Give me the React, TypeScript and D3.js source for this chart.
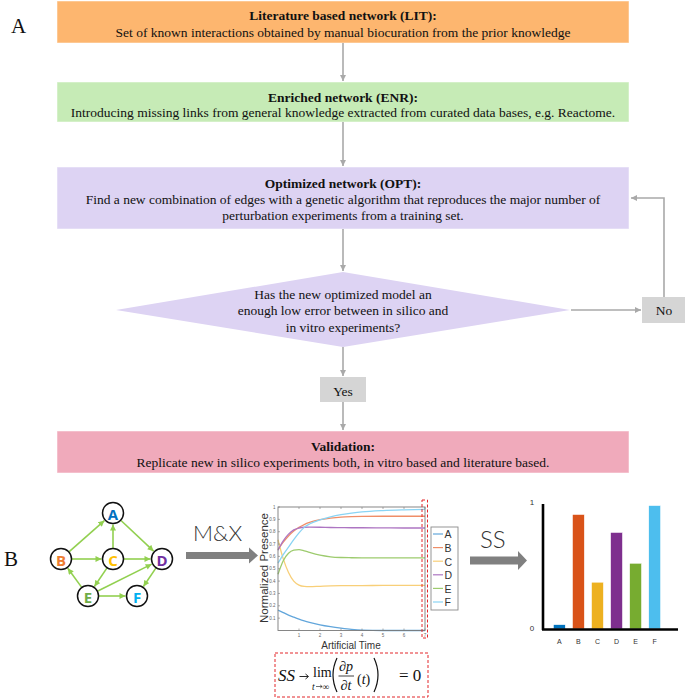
import React from 'react';
import * as d3 from 'd3';

// ---------- Data ----------
const lineTimes = [0, 0.25, 0.5, 0.75, 1, 1.25, 1.5, 2, 2.5, 3, 3.5, 4, 5, 6, 7];
const seriesA = [0.165, 0.145, 0.125, 0.108, 0.092, 0.078, 0.066, 0.046, 0.031, 0.019, 0.009, 0.003, 0, 0, 0];
const seriesB = [0.655, 0.715, 0.765, 0.805, 0.835, 0.858, 0.875, 0.898, 0.91, 0.918, 0.922, 0.924, 0.925, 0.925, 0.925];
const seriesC = [0.735, 0.58, 0.47, 0.4, 0.368, 0.357, 0.355, 0.358, 0.361, 0.363, 0.364, 0.364, 0.365, 0.365, 0.365];
const seriesD = [0.65, 0.725, 0.78, 0.815, 0.83, 0.836, 0.837, 0.836, 0.834, 0.833, 0.832, 0.832, 0.831, 0.83, 0.83];
const seriesE = [0.455, 0.565, 0.625, 0.65, 0.655, 0.645, 0.632, 0.61, 0.597, 0.591, 0.589, 0.588, 0.588, 0.588, 0.588];
const seriesF = [0.545, 0.615, 0.675, 0.735, 0.79, 0.835, 0.862, 0.895, 0.92, 0.938, 0.95, 0.96, 0.971, 0.977, 0.981];
const lineNames = ['A', 'B', 'C', 'D', 'E', 'F'];
const lineSeries = [seriesA, seriesB, seriesC, seriesD, seriesE, seriesF];
const lineColors = ['#62A6DB', '#EF8E68', '#F8CF78', '#AD75C2', '#9DCB6E', '#8AD4F4'];
const yTickValues = [0.1, 0.2, 0.3, 0.4, 0.5, 0.6, 0.7, 0.8, 0.9, 1];
const xTickValues = [1, 2, 3, 4, 5, 6, 7];

const barCategories = ['A', 'B', 'C', 'D', 'E', 'F'];
const barValues = [0.035, 0.913, 0.373, 0.77, 0.524, 0.984];
const barColors = ['#0072BD', '#D95319', '#EDB120', '#7E2F8E', '#77AC30', '#4DBEEE'];
const barTicks = [0, 1];

const nodeNames = ['A', 'B', 'C', 'D', 'E', 'F'];
const nodeColors = ['#0070C0', '#ED7D31', '#FFC000', '#7030A0', '#70AD47', '#00B0F0'];
const edges: [string, string][] = [
  ['B', 'A'], ['C', 'A'], ['A', 'D'], ['B', 'C'], ['C', 'D'],
  ['C', 'E'], ['E', 'D'], ['E', 'B'], ['D', 'F'], ['E', 'F'],
];

const litLines = ['Literature based network (LIT):', 'Set of known interactions obtained by manual biocuration from the prior knowledge'];
const enrLines = ['Enriched network (ENR):', 'Introducing missing links from general knowledge extracted from curated data bases, e.g. Reactome.'];
const optLines = ['Optimized network (OPT):', 'Find a new combination of edges with a genetic algorithm that reproduces the major number of', 'perturbation experiments from a training set.'];
const diamondLines = ['Has the new optimized model an', 'enough low error between in silico and', 'in vitro experiments?'];
const valLines = ['Validation:', 'Replicate new in silico experiments both, in vitro based and literature based.'];

// ---------- Layout ----------
const SERIF = '"Liberation Serif", "Times New Roman", serif';
const SANS = '"Liberation Sans", Arial, sans-serif';
const CX = 343;
const FLOW_ARROW = '#A9A9A9';
const FLOW_FS = 13.5;

const nodePos: Record<string, [number, number]> = {
  A: [113, 513], B: [61, 559], C: [113, 559], D: [162, 559], E: [88, 596], F: [137, 596],
};
const NODE_R = 10.5;

function FlowBox({ x, y, w, h, fill, lines, ys }: any) {
  return (
    <g>
      <rect x={x} y={y} width={w} height={h} fill={fill} stroke="#ffffff" strokeOpacity={0.5} strokeWidth={1} />
      {lines.map((t: string, i: number) => (
        <text key={i} x={CX} y={ys[i]} textAnchor="middle" dominantBaseline="central"
          fontFamily={SERIF} fontSize={FLOW_FS} fontWeight={i === 0 ? 'bold' : 'normal'} fill="#111">{t}</text>
      ))}
    </g>
  );
}

function VArrow({ x, y1, y2 }: any) {
  return <line x1={x} y1={y1} x2={x} y2={y2 - 1} stroke={FLOW_ARROW} strokeWidth={1.6} markerEnd="url(#grayArrow)" />;
}

export default function App() {
  // line chart scales
  const lx = d3.scaleLinear().domain([0, 7]).range([278, 425]);
  const ly = d3.scaleLinear().domain([0, 1]).range([630.5, 507]);
  const lineGen = d3.line<number>()
    .x((_, i) => lx(lineTimes[i]))
    .y((d) => ly(d))
    .curve(d3.curveMonotoneX);

  // bar chart scales
  const bx = d3.scaleBand<string>().domain(barCategories).range([549.5, 664.5]).paddingInner(0.37).paddingOuter(0.2);
  const by = d3.scaleLinear().domain([0, 1]).range([629, 503.5]);

  // diamond
  const dTop = 272, dBot = 347, dL = 116, dR = 570, dMid = 310;

  return (
    <svg width={685} height={700} viewBox="0 0 685 700"
      style={{ position: 'absolute', left: 0, top: 0, background: '#fff' }}>
      <defs>
        <marker id="grayArrow" viewBox="0 0 10 10" refX="10" refY="5" markerWidth="6" markerHeight="6"
          markerUnits="userSpaceOnUse" orient="auto">
          <path d="M0,0 L10,5 L0,10 z" fill={FLOW_ARROW} />
        </marker>
        <marker id="greenArrow" viewBox="0 0 10 10" refX="10" refY="5" markerWidth="6.5" markerHeight="6"
          markerUnits="userSpaceOnUse" orient="auto">
          <path d="M0,0 L10,5 L0,10 z" fill="#92D050" />
        </marker>
      </defs>
      <rect x={0} y={0} width={685} height={700} fill="#fff" />

      {/* ---------- Panel A ---------- */}
      <text x={11} y={33} fontFamily={SERIF} fontSize={21} fill="#111">A</text>

      <FlowBox x={57} y={1} w={572} h={42} fill="#FDB66F" lines={litLines} ys={[15, 32]} />
      <VArrow x={CX} y1={43} y2={82} />
      <FlowBox x={57} y={82} w={572} h={40} fill="#C6EBB6" lines={enrLines} ys={[97, 112]} />
      <VArrow x={CX} y1={122} y2={167} />
      <FlowBox x={57} y={167} w={572} h={62} fill="#DDD3F3" lines={optLines} ys={[183, 199, 215]} />
      <VArrow x={CX} y1={229} y2={272} />

      <path d={`M${CX},${dTop} L${dR},${dMid} L${CX},${dBot} L${dL},${dMid} Z`} fill="#DDD3F3" />
      {diamondLines.map((t, i) => (
        <text key={i} x={CX} y={[294, 310, 327][i]} textAnchor="middle" dominantBaseline="central"
          fontFamily={SERIF} fontSize={FLOW_FS} fill="#111">{t}</text>
      ))}

      {/* No */}
      <line x1={dR + 1} y1={dMid} x2={641} y2={dMid} stroke={FLOW_ARROW} strokeWidth={1.6} markerEnd="url(#grayArrow)" />
      <rect x={642} y={297} width={43} height={26} fill="#D5D5D5" />
      <text x={664} y={310} textAnchor="middle" dominantBaseline="central" fontFamily={SERIF} fontSize={FLOW_FS} fill="#111">No</text>
      <polyline points={`664,297 664,198 631,198`} fill="none" stroke={FLOW_ARROW} strokeWidth={1.6} markerEnd="url(#grayArrow)" />

      <VArrow x={CX} y1={dBot} y2={377} />
      <rect x={320} y={377} width={46} height={25} fill="#D5D5D5" />
      <text x={CX} y={391} textAnchor="middle" dominantBaseline="central" fontFamily={SERIF} fontSize={FLOW_FS} fill="#111">Yes</text>
      <VArrow x={CX} y1={402} y2={431} />
      <FlowBox x={57} y={431} w={572} h={42} fill="#F0AABB" lines={valLines} ys={[446, 462]} />

      {/* ---------- Panel B ---------- */}
      <text x={4} y={566} fontFamily={SERIF} fontSize={21} fill="#111">B</text>

      {/* network */}
      {edges.map(([s, t], i) => {
        const [x1, y1] = nodePos[s];
        const [x2, y2] = nodePos[t];
        const dx = x2 - x1, dy = y2 - y1;
        const len = Math.sqrt(dx * dx + dy * dy);
        const ux = dx / len, uy = dy / len;
        return (
          <line key={i} x1={x1 + ux * (NODE_R + 0.5)} y1={y1 + uy * (NODE_R + 0.5)}
            x2={x2 - ux * (NODE_R + 1)} y2={y2 - uy * (NODE_R + 1)}
            stroke="#92D050" strokeWidth={1.6} markerEnd="url(#greenArrow)" />
        );
      })}
      {nodeNames.map((n, i) => (
        <g key={n}>
          <circle cx={nodePos[n][0]} cy={nodePos[n][1]} r={NODE_R} fill="#fff" stroke="#111" strokeWidth={1.5} />
          <text x={nodePos[n][0]} y={nodePos[n][1] + 0.5} textAnchor="middle" dominantBaseline="central"
            fontFamily='"Open Sans", sans-serif' fontWeight={700} fontSize={15} fill={nodeColors[i]}>{n}</text>
        </g>
      ))}

      {/* M&X arrow */}
      <text x={193} y={541} fontFamily='Lato, sans-serif' fontWeight={300} fontSize={22} fill="#333">M&amp;X</text>
      <rect x={186} y={552} width={64} height={7} fill="#808080" />
      <path d="M249,547.5 L258,555.5 L249,563.5 Z" fill="#808080" />

      {/* line chart */}
      <g>
        {lineSeries.map((s, i) => (
          <path key={i} d={lineGen(s) || ''} fill="none" stroke={lineColors[i]} strokeWidth={1.3} />
        ))}
        <rect x={278} y={507} width={147} height={123.5} fill="none" stroke="#7A7A7A" strokeWidth={0.9} />
        {yTickValues.map((v) => (
          <g key={v}>
            <line x1={278} x2={280} y1={ly(v)} y2={ly(v)} stroke="#7A7A7A" strokeWidth={0.6} />
            <text x={275.5} y={ly(v)} textAnchor="end" dominantBaseline="central" fontFamily={SANS} fontSize={4.5} fill="#666">{v}</text>
          </g>
        ))}
        {xTickValues.map((v) => (
          <g key={v}>
            <line x1={lx(v)} x2={lx(v)} y1={630.5} y2={628.5} stroke="#7A7A7A" strokeWidth={0.6} />
            <line x1={lx(v)} x2={lx(v)} y1={507} y2={509} stroke="#7A7A7A" strokeWidth={0.6} />
            <text x={lx(v)} y={635.5} textAnchor="middle" dominantBaseline="central" fontFamily={SANS} fontSize={4.5} fill="#666">{v}</text>
          </g>
        ))}
        <text transform="translate(264,568) rotate(-90)" textAnchor="middle" dominantBaseline="central"
          fontFamily={SANS} fontSize={11.5} fill="#333">Normalized Presence</text>
        <text x={351} y={645} textAnchor="middle" dominantBaseline="central" fontFamily={SANS} fontSize={10} fill="#333">Artificial Time</text>

        {/* legend */}
        <rect x={431} y={527} width={27} height={83} fill="#fff" stroke="#8A8A8A" strokeWidth={0.9} />
        {lineNames.map((n, i) => {
          const yy = 534 + i * 13.6;
          return (
            <g key={n}>
              <line x1={433} x2={443} y1={yy} y2={yy} stroke={lineColors[i]} strokeWidth={1.2} />
              <text x={444.5} y={yy + 0.3} dominantBaseline="central" fontFamily={SANS} fontSize={10.5} fill="#333">{n}</text>
            </g>
          );
        })}
        <rect x={422} y={500} width={5.5} height={138} fill="none" stroke="#E3262B" strokeWidth={1} strokeDasharray="3,2" />
      </g>

      {/* formula */}
      <rect x={275} y={653} width={153} height={44} fill="none" stroke="#E3262B" strokeWidth={1} strokeDasharray="3,2" />
      <text x={278} y={681} fontFamily={SERIF} fontStyle="italic" fontSize={17} fill="#111">SS</text>
      <line x1={299.5} x2={308} y1={676.5} y2={676.5} stroke="#111" strokeWidth={0.9} />
      <path d="M305.5,674 L308.5,676.5 L305.5,679" fill="none" stroke="#111" strokeWidth={0.9} />
      <text x={313} y={677} fontFamily={SERIF} fontSize={14} fill="#111">lim</text>
      <text x={312} y={689.5} fontFamily={SERIF} fontStyle="italic" fontSize={9.5} fill="#111">t</text>
      <line x1={316} x2={322} y1={686.5} y2={686.5} stroke="#111" strokeWidth={0.6} />
      <path d="M320.2,685 L322.2,686.5 L320.2,688" fill="none" stroke="#111" strokeWidth={0.6} />
      <text x={322.5} y={689.5} fontFamily={SERIF} fontSize={9.5} fill="#111">∞</text>
      <path d="M337,658 Q329,675 337,692" fill="none" stroke="#111" strokeWidth={1.2} />
      <text x={346} y={671} textAnchor="middle" fontFamily={SERIF} fontStyle="italic" fontSize={14} fill="#111">∂p</text>
      <line x1={338.5} x2={354} y1={676} y2={676} stroke="#111" strokeWidth={0.8} />
      <text x={346} y={690} textAnchor="middle" fontFamily={SERIF} fontStyle="italic" fontSize={14} fill="#111">∂t</text>
      <text x={357} y={684} fontFamily={SERIF} fontSize={14} fill="#111">(<tspan fontStyle="italic">t</tspan>)</text>
      <path d="M374,658 Q382,675 374,692" fill="none" stroke="#111" strokeWidth={1.2} />
      <text x={399} y={681} fontFamily={SERIF} fontSize={17} fill="#111">= 0</text>

      {/* SS arrow */}
      <text x={480} y={548} fontFamily='Lato, sans-serif' fontWeight={300} fontSize={24} fill="#333">SS</text>
      <rect x={470} y={556.5} width={49} height={8} fill="#808080" />
      <path d="M518,551 L527,560.5 L518,570 Z" fill="#808080" />

      {/* bar chart */}
      {barCategories.map((c, i) => (
        <rect key={c} x={bx(c)} y={by(barValues[i])} width={bx.bandwidth()} height={by(0) - by(barValues[i])}
          fill={barColors[i]} stroke="#fff" strokeWidth={0.6} />
      ))}
      <line x1={543} x2={543} y1={504} y2={630} stroke="#000" strokeWidth={2.6} />
      <line x1={542} x2={678} y1={629.5} y2={629.5} stroke="#000" strokeWidth={2.6} />
      {barTicks.map((t) => (
        <text key={t} x={532} y={by(t) - 1} textAnchor="middle" dominantBaseline="central" fontFamily={SANS} fontSize={8} fill="#333">{t}</text>
      ))}
      {barCategories.map((c) => (
        <text key={c} x={(bx(c) || 0) + bx.bandwidth() / 2} y={641} textAnchor="middle" dominantBaseline="central"
          fontFamily={SANS} fontSize={7} fill="#333">{c}</text>
      ))}
    </svg>
  );
}
